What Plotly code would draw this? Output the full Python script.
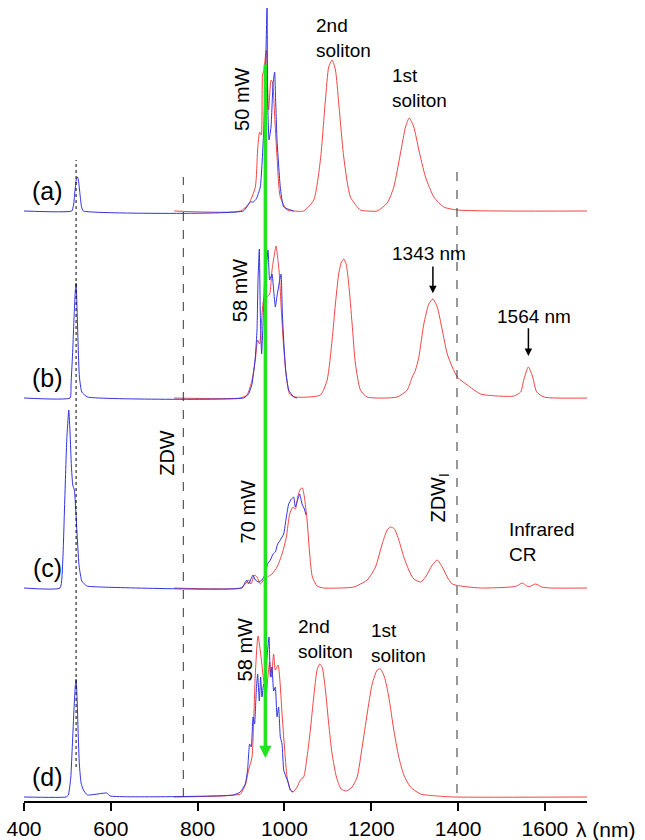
import plotly.graph_objects as go

# ---------------- data (wavelength in nm, intensity in arbitrary units) ----------------
# Panel (a) 50 mW
a_blue_nm = [400, 510.0, 514.2, 517.6, 521.1, 523.4, 525.7, 529.2, 532.6, 536.8, 905.2, 921.3, 928.2, 935.2,
             944.4, 952.0, 956.6, 959.9, 961.2, 964.5, 969.1, 973.7, 977.4, 979.7, 982.9, 990.4, 998.2, 1021.2]
a_blue_I = [0, 0, 6, 21, 33, 34, 30, 16, 4, 0, 0, 9, 9, 12,
            24, 78, 144, 203, 111, 71, 84, 127, 139, 111, 71, 24, 4, 0]
a_red_nm = [746, 898.3, 917.4, 932.9, 938.2, 942.8, 946.7, 949.7, 952.0, 958.2, 963.5, 969.1, 972.8, 976.7,
            982.9, 990.4, 1006.0, 1021.2, 1044.3, 1067.4, 1082.8, 1094.4, 1102.0, 1109.8, 1117.5, 1125.0,
            1136.6, 1152.0, 1175.0, 1190.5, 1213.6, 1236.7, 1251.9, 1267.4, 1278.9, 1287.4, 1298.0, 1309.6,
            1325.0, 1344.2, 1367.2, 1398.2, 1698]
a_red_I = [0, 0, 7, 24, 61, 79, 76, 137, 139, 161, 101, 131, 128, 101,
           54, 14, 1, 0, 0, 11, 51, 111, 144, 151, 141, 108,
           54, 14, 1, 0, 0, 8, 24, 58, 84, 93, 84, 61,
           34, 14, 4, 1, 0]

# Panel (b) 58 mW
b_blue_nm = [400, 506.1, 508.4, 512.3, 516.0, 518.3, 520.0, 522.3, 524.6, 527.6, 533.1, 546.0, 905.9, 917.4,
             925.3, 932.9, 936.8, 939.1, 942.1, 944.4, 947.4, 950.6, 954.3, 958.2, 962.2, 965.9, 971.4, 975.1,
             979.0, 982.9, 987.5, 992.2, 995.2, 998.2, 1002.8, 1009.7, 1021.2, 1029.1]
b_blue_I = [0, 0, 14, 48, 88, 108, 115, 88, 54, 21, 6, 1, 0, 4,
            14, 41, 68, 118, 149, 84, 44, 74, 118, 131, 148, 118, 124, 108,
            91, 102, 114, 124, 84, 58, 28, 8, 1, 0]
b_red_nm = [746, 898.3, 913.7, 925.3, 932.9, 938.2, 942.8, 948.3, 953.6, 959.9, 965.9, 971.4, 976.7, 980.6,
            984.3, 988.2, 992.8, 998.2, 1004.4, 1012.0, 1025.1, 1082.8, 1098.3, 1109.8, 1117.4, 1125.0, 1131.3,
            1136.6, 1142.1, 1148.1, 1155.9, 1163.6, 1175.1, 1190.5, 1259.7, 1282.8, 1294.3, 1301.9, 1309.6,
            1321.1, 1332.6, 1341.9, 1352.0, 1363.5, 1375.1, 1386.6, 1398.2, 1421.2, 1451.9, 1490.4, 1528.7,
            1544.2, 1551.8, 1561.9, 1571.2, 1581.1, 1597.9, 1698]
b_red_I = [0, 0, 3, 18, 38, 58, 54, 84, 101, 101, 104, 128, 143, 152,
           141, 124, 88, 51, 21, 4, 1, 3, 18, 58, 94, 124, 136,
           139, 134, 114, 74, 34, 8, 1, 1, 8, 21, 28, 41,
           74, 94, 99, 91, 68, 44, 31, 21, 13, 4, 2, 2,
           6, 19, 31, 22, 6, 1, 0]

# Panel (c) 70 mW
c_blue_nm = [400, 483.0, 489.3, 493.9, 498.5, 503.1, 506.1, 509.1, 512.3, 516.0, 519.3, 523.0, 526.9, 533.1,
             544.6, 575.3, 902.2, 909.8, 913.7, 917.4, 922.9, 927.6, 932.9, 940.5, 948.3, 955.9, 961.2, 967.5,
             973.7, 979.0, 984.3, 990.5, 998.2, 1004.4, 1009.7, 1015.9, 1021.2, 1025.1, 1030.5, 1035.1, 1040.6,
             1045.9, 1049.8]
c_blue_I = [0, 0, 27, 88, 148, 178, 155, 122, 103, 98, 78, 48, 22, 7,
            2, 1, 0, 6, 8, 4, 9, 13, 8, 6, 8, 14, 24, 28,
            34, 36, 44, 48, 54, 71, 84, 89, 91, 81, 88, 94, 84,
            79, 73]
c_red_nm = [746, 898.3, 909.8, 917.4, 922.9, 930.6, 936.8, 944.4, 952.0, 961.2, 971.4, 982.9, 994.5, 1004.4,
            1012.0, 1019.8, 1025.1, 1030.5, 1036.7, 1041.3, 1045.9, 1052.1, 1058.1, 1064.4, 1075.2, 1090.4,
            1129.0, 1159.6, 1190.5, 1209.7, 1225.1, 1236.7, 1244.3, 1253.5, 1263.4, 1275.0, 1286.5, 1298.0,
            1313.5, 1325.0, 1340.5, 1352.0, 1363.5, 1375.1, 1386.6, 1405.7, 1451.9, 1521.1, 1534.9, 1548.1,
            1558.0, 1564.9, 1578.8, 1592.6, 1613.4, 1698]
c_red_I = [0, 0, 4, 8, 4, 13, 11, 4, 8, 11, 14, 21, 34, 51,
           74, 81, 79, 91, 99, 100, 91, 68, 34, 11, 2, 0,
           0, 1, 8, 21, 44, 58, 61, 59, 48, 31, 18, 9,
           6, 11, 23, 28, 21, 11, 4, 2, 0, 1, 2, 5,
           2, 1.5, 4, 1, 0, 0]

# Panel (d) 58 mW
d_blue_nm = [400, 496.9, 502.2, 507.7, 511.4, 515.3, 518.3, 520.0, 522.3, 524.6, 527.6, 531.5, 536.8, 546.0,
             590.8, 598.4, 882.8, 898.3, 909.8, 915.1, 919.7, 923.6, 927.6, 931.2, 935.2, 938.2, 942.1, 945.1,
             948.3, 952.0, 955.9, 959.9, 964.5, 967.5, 971.4, 975.1, 979.0, 982.9, 986.6, 990.5, 994.5, 998.2,
             1003.7, 1008.3, 1013.6, 1019.8]
d_blue_I = [0, 0, 2, 19, 52, 89, 112, 118, 99, 66, 32, 14, 7, 2,
            4, 1, 2, 5, 13, 27, 53, 50, 80, 73, 107, 123, 96, 120,
            100, 113, 106, 140, 160, 120, 130, 106, 110, 80, 90, 60, 53, 27,
            20, 15, 7, 5]
d_red_nm = [746, 858, 882.8, 898.3, 909.8, 917.4, 925.3, 928.9, 932.9, 939.1, 946.1, 952.0, 958.2, 961.2,
            965.9, 969.8, 975.1, 979.0, 985.2, 988.9, 994.5, 1000.0, 1006.0, 1013.6, 1019.8, 1029.1, 1036.7,
            1044.3, 1052.1, 1059.7, 1067.4, 1075.2, 1081.2, 1086.7, 1094.4, 1102.0, 1109.8, 1119.7, 1130.6,
            1142.8, 1155.9, 1167.5, 1179.0, 1190.5, 1202.1, 1213.6, 1221.2, 1230.4, 1240.4, 1251.9, 1263.4,
            1275.0, 1290.4, 1313.5, 1352.0, 1390.3, 1698]
d_red_I = [0, 1, 2, 3, 12, 27, 40, 73, 123, 161, 140, 117, 103, 117,
           135, 120, 143, 127, 132, 120, 83, 50, 20, 7, 5, 10, 17,
           20, 40, 67, 100, 127, 133, 130, 107, 73, 43, 20, 8,
           6, 10, 20, 50, 83, 113, 127, 128, 120, 100, 67, 40,
           22, 10, 3, 1, 0, 0]

panel_labels = ["(a)", "(b)", "(c)", "(d)"]
panel_offsets = [590, 403, 213, 4]
pump_powers = ["50 mW", "58 mW", "70 mW", "58 mW"]

pump_nm = 956           # green arrow position
ir_dw_nm = 520          # dotted line
zdw_nm = 767            # ZDW
zdw_ir_nm = 1397.5      # ZDW_I
x_ticks = [400, 600, 800, 1000, 1200, 1400, 1600]

RED = "rgb(242,70,70)"
BLUE = "rgb(50,50,225)"
FONT = "Liberation Sans, Arial, Helvetica, sans-serif"

panels = [
    (a_red_nm, a_red_I, a_blue_nm, a_blue_I),
    (b_red_nm, b_red_I, b_blue_nm, b_blue_I),
    (c_red_nm, c_red_I, c_blue_nm, c_blue_I),
    (d_red_nm, d_red_I, d_blue_nm, d_blue_I),
]

fig = go.Figure()
for (rn, ri, bn, bi), off in zip(panels, panel_offsets):
    fig.add_trace(go.Scatter(x=rn, y=[v + off for v in ri], mode="lines",
                             line=dict(color=RED, width=1, shape="spline", smoothing=0.6),
                             showlegend=False, hoverinfo="skip"))
    fig.add_trace(go.Scatter(x=bn, y=[v + off for v in bi], mode="lines",
                             line=dict(color=BLUE, width=1, shape="spline", smoothing=0.4),
                             showlegend=False, hoverinfo="skip"))

# reference lines
fig.add_shape(type="line", x0=ir_dw_nm, x1=ir_dw_nm, y0=34, y1=641, xref="x", yref="y",
              line=dict(color="black", width=1, dash="dot"))
fig.add_shape(type="line", x0=zdw_nm, x1=zdw_nm, y0=4, y1=624, xref="x", yref="y",
              line=dict(color="#333", width=1, dash="dash"))
fig.add_shape(type="line", x0=zdw_ir_nm, x1=zdw_ir_nm, y0=8, y1=634, xref="x", yref="y",
              line=dict(color="#333", width=1, dash="dash"))

ann = []
# green pump arrow
ann.append(dict(x=pump_nm, y=43, ax=pump_nm, ay=738, xref="x", yref="y", axref="x", ayref="y",
                text="", showarrow=True, arrowhead=2, arrowsize=0.7, arrowwidth=3.5,
                arrowcolor="rgb(30,230,30)"))
# panel labels
for lab, off in zip(panel_labels, panel_offsets):
    ann.append(dict(x=455, y=off + 20, xref="x", yref="y", text=lab, showarrow=False,
                    font=dict(size=25, color="black", family=FONT)))
# pump powers (rotated)
for txt, (px, py) in zip(pump_powers, [(902, 702), (898, 510), (917, 289), (910, 151)]):
    ann.append(dict(x=px, y=py, xref="x", yref="y", text=txt, textangle=-90, showarrow=False,
                    font=dict(size=20, color="black", family=FONT)))
# soliton labels
for (px, py) in [(1067, 763), (1027, 162)]:
    ann.append(dict(x=px, y=py, xref="x", yref="y", text="2nd<br>soliton", showarrow=False,
                    xanchor="left", align="left", font=dict(size=19, color="black", family=FONT)))
for (px, py) in [(1244, 713), (1194, 158)]:
    ann.append(dict(x=px, y=py, xref="x", yref="y", text="1st<br>soliton", showarrow=False,
                    xanchor="left", align="left", font=dict(size=19, color="black", family=FONT)))
# wavelength markers
ann.append(dict(x=1332, y=548, xref="x", yref="y", text="1343 nm", showarrow=False,
                font=dict(size=19, color="black", family=FONT)))
ann.append(dict(x=1342, y=507.7, ax=1342, ay=536, xref="x", yref="y", axref="x", ayref="y",
                text="", showarrow=True, arrowhead=2, arrowsize=1, arrowwidth=1.5, arrowcolor="black"))
ann.append(dict(x=1575, y=485, xref="x", yref="y", text="1564 nm", showarrow=False,
                font=dict(size=19, color="black", family=FONT)))
ann.append(dict(x=1562, y=445, ax=1562, ay=474.3, xref="x", yref="y", axref="x", ayref="y",
                text="", showarrow=True, arrowhead=2, arrowsize=1, arrowwidth=1.5, arrowcolor="black"))
# ZDW labels
ann.append(dict(x=729, y=348, xref="x", yref="y", text="ZDW", textangle=-90, showarrow=False,
                font=dict(size=20, color="black", family=FONT)))
ann.append(dict(x=1355, y=303, xref="x", yref="y", text="ZDW<sub>I</sub>", textangle=-90, showarrow=False,
                font=dict(size=20, color="black", family=FONT)))
ann.append(dict(x=1512, y=259, xref="x", yref="y", text="Infrared<br>CR", showarrow=False,
                xanchor="left", align="left", font=dict(size=19, color="black", family=FONT)))
# axis unit label
ann.append(dict(x=0.977, y=-0.036, xref="paper", yref="paper", text="λ (nm)", showarrow=False,
                xanchor="left", yanchor="middle", font=dict(size=21, color="black", family=FONT)))

fig.update_layout(
    width=645, height=840,
    margin=dict(l=24, r=58, t=0, b=39),
    paper_bgcolor="white", plot_bgcolor="white",
    annotations=ann,
    xaxis=dict(range=[400, 1697], tickvals=x_ticks, ticks="outside", ticklen=8, tickwidth=1.5,
               tickcolor="black", showline=True, linecolor="black", linewidth=1.5, showgrid=False,
               zeroline=False, automargin=False, tickfont=dict(size=21, color="black", family=FONT)),
    yaxis=dict(range=[0, 801], visible=False, showgrid=False, zeroline=False),
)

fig.write_html("out.html", config={"displayModeBar": False},
               post_script="document.body.style.margin='0px';document.body.style.overflow='hidden';")
